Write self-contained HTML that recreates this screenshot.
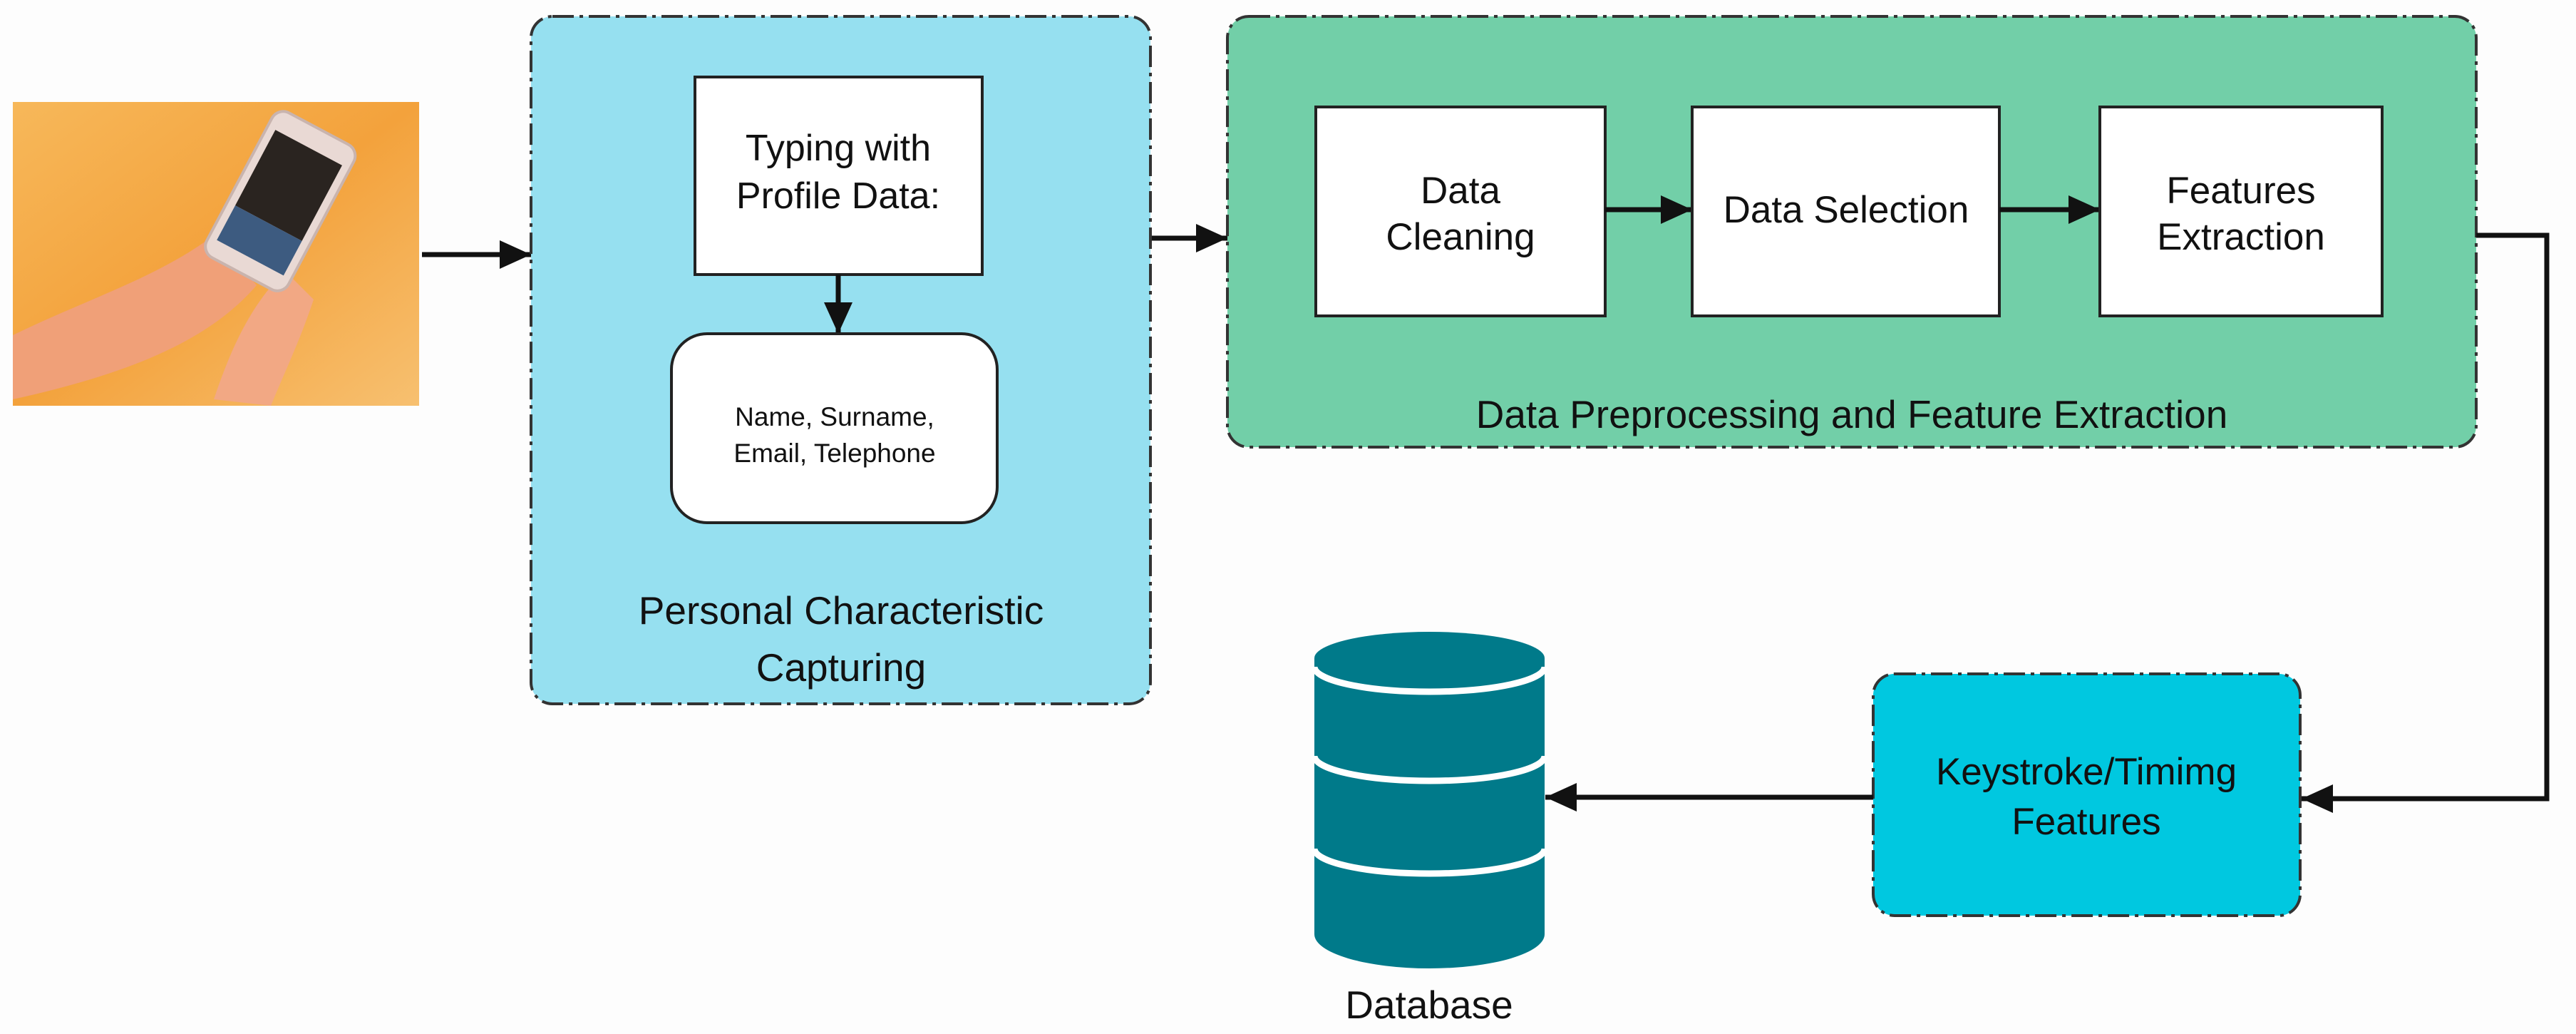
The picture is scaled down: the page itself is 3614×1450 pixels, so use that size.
<!DOCTYPE html>
<html><head><meta charset="utf-8"><style>html,body{margin:0;padding:0;background:#fdfdfd}svg{display:block}</style></head>
<body>
<svg width="3614" height="1450" viewBox="0 0 3614 1450" xmlns="http://www.w3.org/2000/svg" font-family="Liberation Sans, Arial, sans-serif">
<defs>
<marker id="ah" markerWidth="44" markerHeight="40" refX="44" refY="20" orient="auto" markerUnits="userSpaceOnUse" viewBox="0 0 44 40">
<path d="M0,0 L44,20 L0,40 z" fill="#111"/></marker>
<linearGradient id="wood" x1="0" y1="0" x2="1" y2="1">
<stop offset="0" stop-color="#f7b85a"/><stop offset="0.5" stop-color="#f3a23c"/><stop offset="1" stop-color="#f7c070"/></linearGradient>
</defs>
<rect width="3614" height="1450" fill="#fdfdfd"/>
<rect x="18" y="143" width="570" height="426" fill="url(#wood)"/>
<path d="M18,470 C120,420 220,390 300,330 L360,400 C300,470 200,520 18,560 Z" fill="#f0a078"/>
<path d="M300,560 C330,470 360,420 400,380 L440,420 C420,480 400,520 380,569 Z" fill="#f2a884"/>
<g transform="rotate(28 400 280)"><rect x="330" y="170" width="130" height="230" rx="18" fill="#e9d9d4" stroke="#c9b4ae" stroke-width="4"/><rect x="342" y="200" width="106" height="120" fill="#2a2420"/><rect x="342" y="320" width="106" height="55" fill="#3d5b80"/></g>
<line x1="592" y1="357" x2="745" y2="357" stroke="#111" stroke-width="7" marker-end="url(#ah)" />
<rect x="745" y="23" width="869" height="964" rx="30" fill="#96e0f0" stroke="#333" stroke-width="4" stroke-dasharray="30,8,5,8"/>
<rect x="975" y="108" width="403" height="277" fill="#fff" stroke="#222" stroke-width="4"/>
<text x="1176" y="225" font-size="52" text-anchor="middle" fill="#111">Typing with</text>
<text x="1176" y="292" font-size="52" text-anchor="middle" fill="#111">Profile Data:</text>
<line x1="1176" y1="385" x2="1176" y2="468" stroke="#111" stroke-width="7" marker-end="url(#ah)"/>
<rect x="942" y="468" width="457" height="265" rx="50" fill="#fff" stroke="#222" stroke-width="4"/>
<text x="1171" y="597" font-size="37" text-anchor="middle" fill="#111">Name, Surname,</text>
<text x="1171" y="648" font-size="37" text-anchor="middle" fill="#111">Email, Telephone</text>
<text x="1180" y="875" font-size="55" text-anchor="middle" fill="#111">Personal Characteristic</text>
<text x="1180" y="955" font-size="55" text-anchor="middle" fill="#111">Capturing</text>
<line x1="1616" y1="334" x2="1722" y2="334" stroke="#111" stroke-width="7" marker-end="url(#ah)"/>
<rect x="1722" y="23" width="1752" height="604" rx="30" fill="#72cfa8" stroke="#333" stroke-width="4" stroke-dasharray="30,8,5,8"/>
<rect x="1846" y="150" width="406" height="293" fill="#fff" stroke="#222" stroke-width="4"/>
<text x="2049" y="285" font-size="53" text-anchor="middle" fill="#111">Data</text>
<text x="2049" y="350" font-size="53" text-anchor="middle" fill="#111">Cleaning</text>
<line x1="2252" y1="294" x2="2374" y2="294" stroke="#111" stroke-width="7" marker-end="url(#ah)"/>
<rect x="2374" y="150" width="431" height="293" fill="#fff" stroke="#222" stroke-width="4"/>
<text x="2590" y="312" font-size="53" text-anchor="middle" fill="#111">Data Selection</text>
<line x1="2805" y1="294" x2="2946" y2="294" stroke="#111" stroke-width="7" marker-end="url(#ah)"/>
<rect x="2946" y="150" width="396" height="293" fill="#fff" stroke="#222" stroke-width="4"/>
<text x="3144" y="285" font-size="53" text-anchor="middle" fill="#111">Features</text>
<text x="3144" y="350" font-size="53" text-anchor="middle" fill="#111">Extraction</text>
<text x="2598" y="600" font-size="55" text-anchor="middle" fill="#111">Data Preprocessing and Feature Extraction</text>
<polyline points="3474,330 3573,330 3573,1120 3229,1120" fill="none" stroke="#111" stroke-width="7" marker-end="url(#ah)"/>
<rect x="2628" y="945" width="599" height="339" rx="30" fill="#00c8e0" stroke="#333" stroke-width="4" stroke-dasharray="30,8,5,8"/>
<text x="2927" y="1100" font-size="53" text-anchor="middle" fill="#111">Keystroke/Timimg</text>
<text x="2927" y="1170" font-size="53" text-anchor="middle" fill="#111">Features</text>
<line x1="2628" y1="1118" x2="2168" y2="1118" stroke="#111" stroke-width="7" marker-end="url(#ah)"/>
<path d="M1844,923 L1844,1310 A161.5,48 0 0 0 2167,1310 L2167,923 Z" fill="#007a8a"/>
<path d="M1844,935 A161.5,35 0 0 0 2167,935" fill="none" stroke="#fff" stroke-width="9"/>
<path d="M1844,1060 A161.5,35 0 0 0 2167,1060" fill="none" stroke="#fff" stroke-width="9"/>
<path d="M1844,1190 A161.5,35 0 0 0 2167,1190" fill="none" stroke="#fff" stroke-width="9"/>
<ellipse cx="2005.5" cy="923" rx="161.5" ry="37" fill="#007a8a"/>
<text x="2005" y="1428" font-size="55" text-anchor="middle" fill="#111">Database</text>
</svg>
</body></html>
